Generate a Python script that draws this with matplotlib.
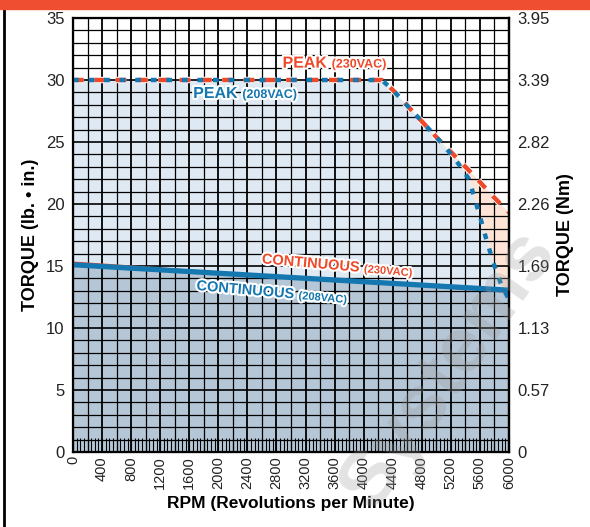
import matplotlib
matplotlib.use("Agg")
import matplotlib.pyplot as plt
import matplotlib.patheffects as pe
from matplotlib.lines import Line2D
from matplotlib.patches import Rectangle
from matplotlib.ticker import MultipleLocator
import numpy as np

plt.rcParams["font.family"] = ["Liberation Sans Narrow", "Liberation Sans", "DejaVu Sans"]

# 數據
rpm_peak_230 = [0, 4250, 4400, 4700, 5000, 5200, 5500, 5800, 6000]
torque_peak_230 = [30, 30, 29.2, 27.3, 25.4, 24.2, 22.4, 20.5, 19.3]
rpm_peak_208 = [0, 4250, 4400, 4700, 5000, 5250, 5450, 5600, 5700, 5800, 5900, 6000]
torque_peak_208 = [30, 30, 29.2, 27.3, 25.4, 23.7, 22.0, 19.0, 16.9, 15.0, 13.4, 12.3]
rpm_cont = [0, 6000]
torque_cont_230 = [15.3, 12.9]
torque_cont_208 = [15.1, 13.05]

x_ticks = list(range(0, 6001, 400))
y_ticks = [0, 5, 10, 15, 20, 25, 30, 35]
nm_labels = ["0", "0.57", "1.13", "1.69", "2.26", "2.82", "3.39", "3.95"]

RED = "#ee4a2a"
BLUE = "#1577b0"
LIGHT = "#dfe9f3"
DARK = "#b5c7d7"
ORANGE = "#fde4d6"

fig = plt.figure(figsize=(5.9, 5.27), dpi=100)
ax = fig.add_axes([73 / 590, 75 / 527, 436 / 590, 434 / 527])
ax.set_xlim(0, 6000)
ax.set_ylim(0, 35)

# 填色:共用 x 網格插值
xs = np.linspace(0, 6000, 1201)
p230 = np.interp(xs, rpm_peak_230, torque_peak_230)
p208 = np.interp(xs, rpm_peak_208, torque_peak_208)
c208 = np.interp(xs, rpm_cont, torque_cont_208)
ax.fill_between(xs, 0, c208, color=DARK, lw=0, zorder=0)
ax.fill_between(xs, c208, np.maximum(p208, c208), color=LIGHT, lw=0, zorder=0)
ax.fill_between(xs, np.maximum(p208, c208), np.maximum(p230, c208), color=ORANGE, lw=0, zorder=0)

# 格線
for gx in range(200, 6000, 200):
    ax.axvline(gx, color="black", lw=1.3 if gx % 400 == 0 else 0.9, zorder=1)
for gy in range(1, 35):
    ax.axhline(gy, color="black", lw=1.2 if gy % 5 == 0 else 0.9, zorder=1)

# 連續曲線
ax.plot(rpm_cont, torque_cont_230, color=RED, lw=1.2, zorder=3)
ax.plot(rpm_cont, torque_cont_208, color=BLUE, lw=3.8, zorder=3, solid_capstyle="butt")

# 峰值曲線
white = [pe.Stroke(linewidth=4.6, foreground="white"), pe.Normal()]
ax.plot(rpm_peak_230, torque_peak_230, color=RED, lw=3.2, dashes=(2.4, 2.4),
        zorder=4, path_effects=white)
ax.plot(rpm_peak_208, torque_peak_208, color=BLUE, lw=3.2, dashes=(1.3, 2.2),
        dash_capstyle="butt", zorder=5)

# 標籤
halo = [pe.withStroke(linewidth=3, foreground="white")]


def two_part(x, y, big, small, color, rot, size):
    kw = dict(color=color, fontweight="bold", rotation=rot, rotation_mode="anchor",
              va="baseline", zorder=6, path_effects=halo)
    ax.text(x, y, big + " ", ha="right", fontsize=size, **kw)
    ax.text(x, y, small, ha="left", fontsize=size - 2.5, **kw)


two_part(3560, 31.0, "PEAK", "(230VAC)", RED, 0, 11.5)
two_part(2330, 28.55, "PEAK", "(208VAC)", BLUE, 0, 11.5)
two_part(4000, 14.5, "CONTINUOUS", "(230VAC)", RED, -5, 10.5)
two_part(3100, 12.35, "CONTINUOUS", "(208VAC)", BLUE, -5, 10.5)

# 坐標軸
ax.set_xticks(x_ticks)
ax.set_xticklabels([str(v) for v in x_ticks], rotation=90, fontsize=10.5, color="#222222")
ax.xaxis.set_minor_locator(MultipleLocator(50))
ax.tick_params(axis="x", which="both", direction="in", length=10, width=0.8, pad=3)
ax.set_yticks(y_ticks)
ax.set_yticklabels([str(v) for v in y_ticks], fontsize=12, color="#222222")
ax.tick_params(axis="y", which="both", length=0, pad=6)
for s in ax.spines.values():
    s.set_linewidth(1.6)
ax.set_xlabel("RPM (Revolutions per Minute)", fontsize=12.5, fontweight="bold", labelpad=5)
ax.set_ylabel("TORQUE (lb. \u2022 in.)", fontsize=13, fontweight="bold", labelpad=5)

ax2 = ax.twinx()
ax2.set_ylim(0, 35)
ax2.set_yticks(y_ticks)
ax2.set_yticklabels(nm_labels, fontsize=12, color="#222222")
ax2.tick_params(axis="y", length=0, pad=6)
ax2.spines["right"].set_linewidth(1.6)
ax2.set_ylabel("TORQUE (Nm)", fontsize=13, fontweight="bold", labelpad=5)

# 頂部橘條與左框線
fig.patches.append(Rectangle((0, 1 - 9 / 527), 1, 9 / 527, transform=fig.transFigure,
                             color="#f04e30", zorder=10))
fig.lines.append(Line2D([4 / 590, 4 / 590], [0, 1 - 9 / 527], transform=fig.transFigure,
                        color="black", lw=2))

# 浮水印
fig.text(0.76, 0.30, "Systems", fontsize=56, fontweight="bold", color="#9a9a9a",
         alpha=0.28, rotation=55, ha="center", va="center", zorder=20)

fig.savefig("out.png", dpi=100)
